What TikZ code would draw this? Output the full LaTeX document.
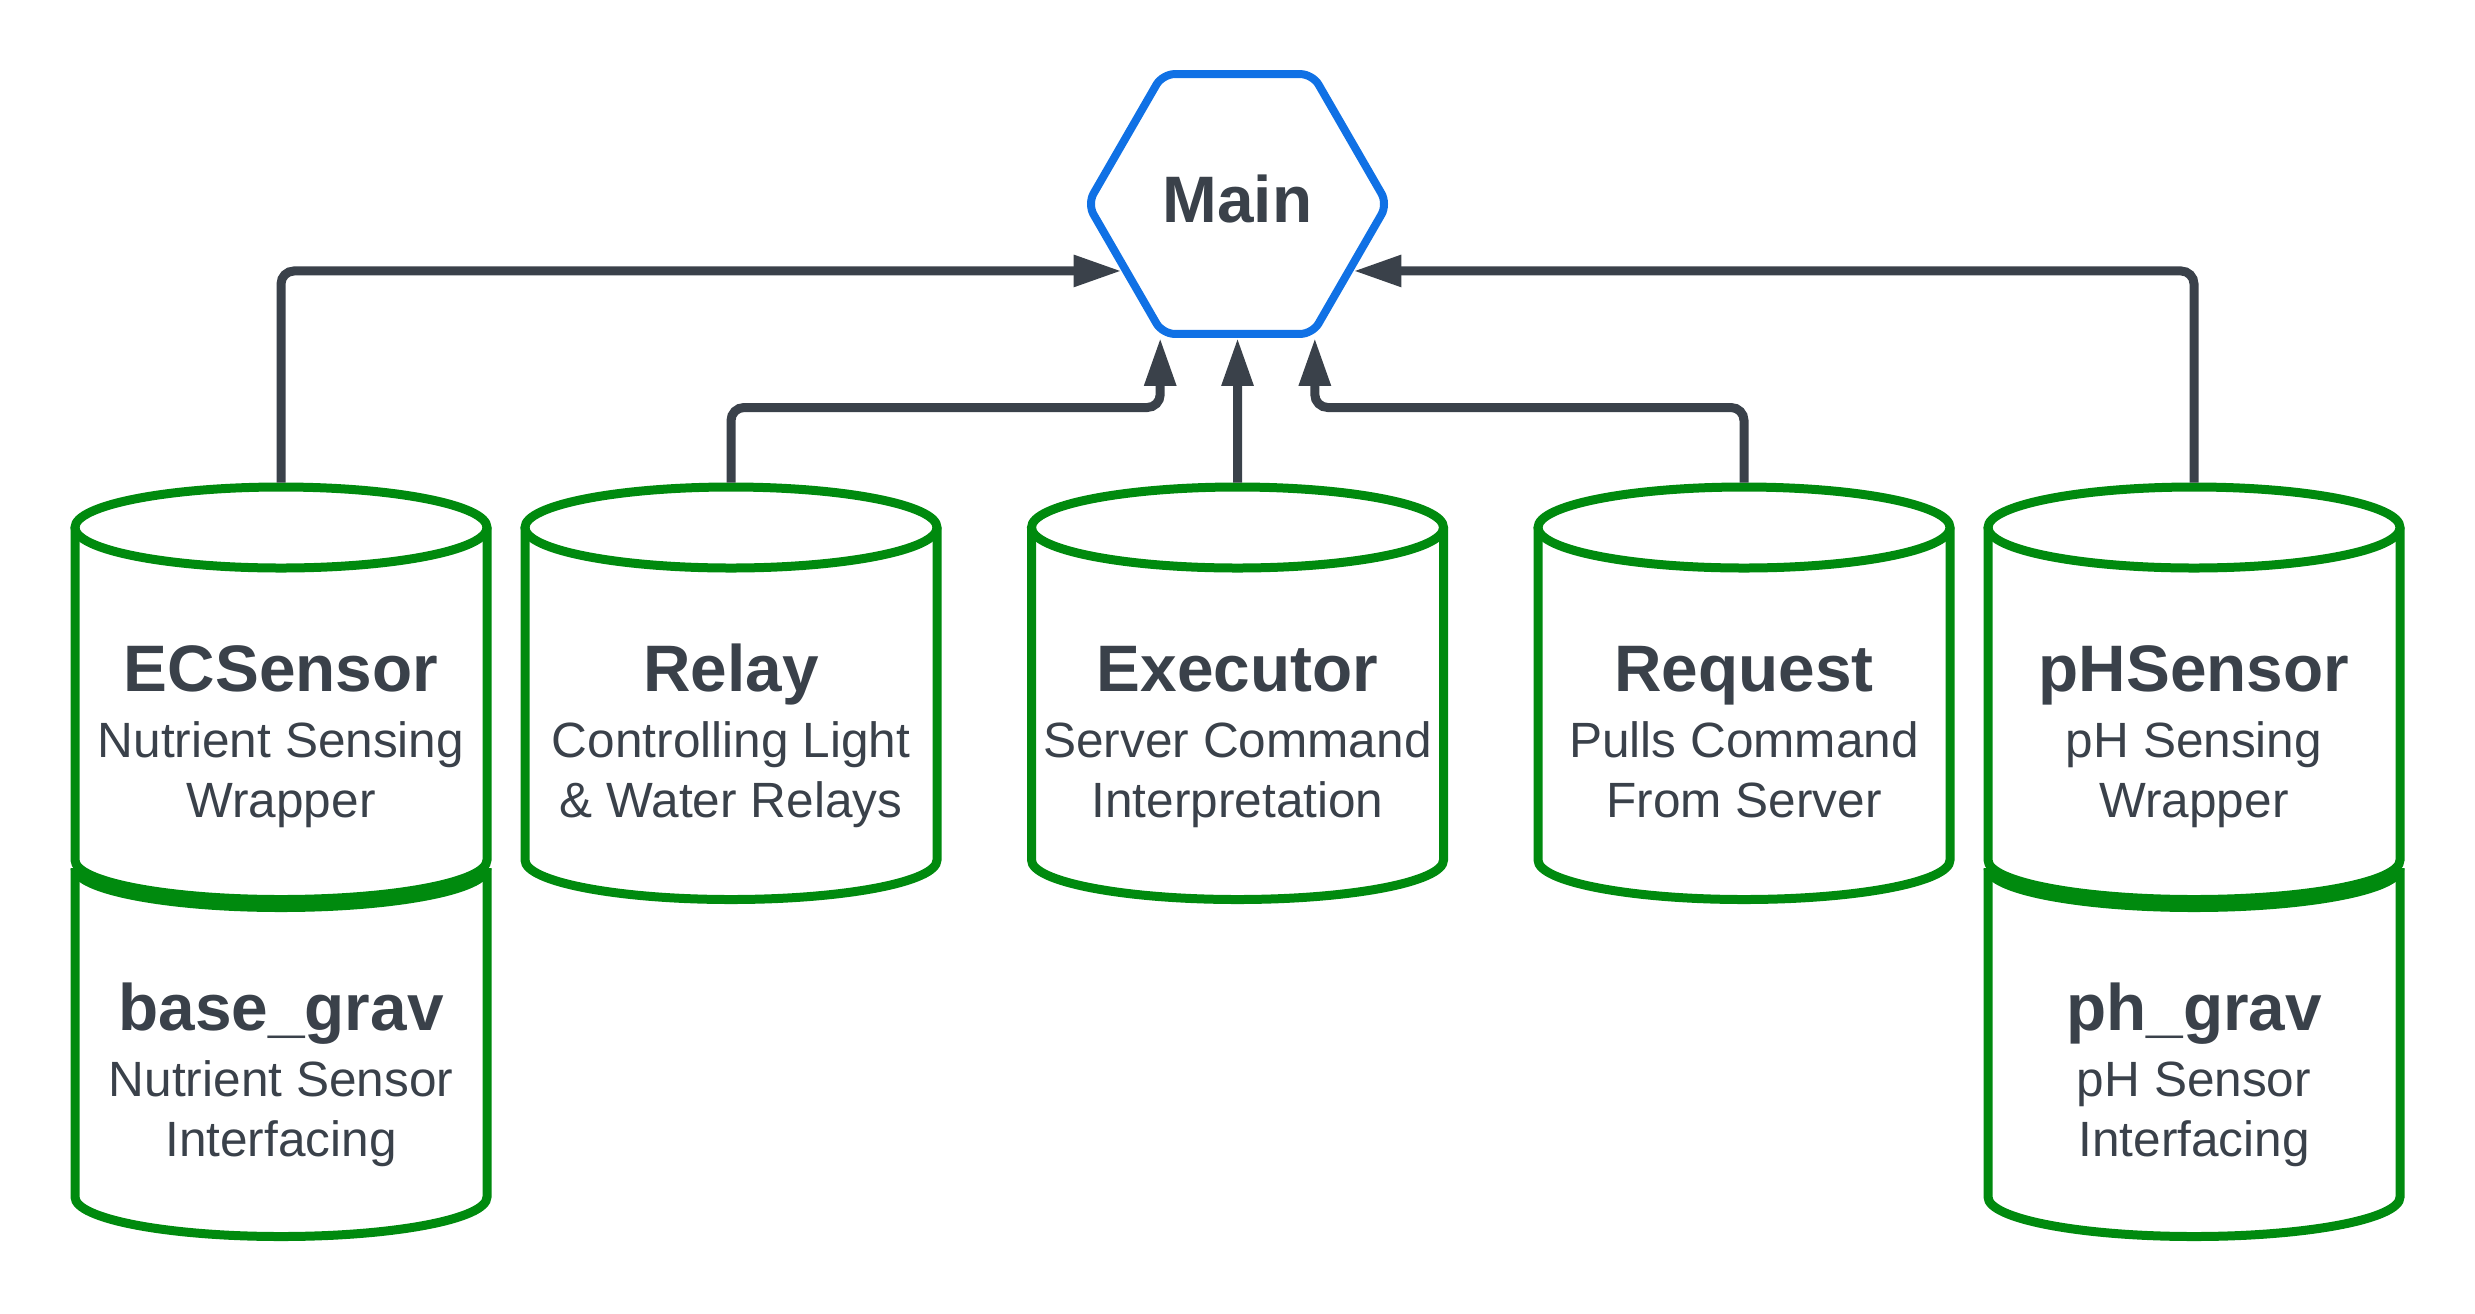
\documentclass[tikz,border=0pt]{standalone}
\usepackage{fontspec}
\setmainfont{Liberation Sans}
\usetikzlibrary{arrows.meta,shapes.geometric}

\definecolor{ink}{HTML}{3A414A}
\definecolor{hexblue}{HTML}{1071E5}
\definecolor{drumgreen}{HTML}{008A0E}

% cylinder: name, x, y of top ellipse, y of bottom ellipse
\newcommand{\drum}[4]{%
    \draw[drumline] ({#2-2.06},#3) -- ({#2-2.06},#4) arc[start angle=180, end angle=360, x radius=2.06, y radius=0.395] -- ({#2+2.06},#3);
    \draw[drumline] (#2,#3) ellipse[x radius=2.06, y radius=0.405];
    \coordinate (#1-top) at (#2,{#3+0.45});
}
% open cylinder under another one: x, y of top arc, y of bottom ellipse
\newcommand{\drumbase}[3]{%
    \draw[drumline] ({#1-2.06},#2) arc[start angle=180, end angle=360, x radius=2.06, y radius=0.395];
    \draw[drumline] ({#1-2.06},#2) -- ({#1-2.06},#3) arc[start angle=180, end angle=360, x radius=2.06, y radius=0.395] -- ({#1+2.06},#2);
}

\begin{document}
\begin{tikzpicture}[
    drumline/.style={draw=drumgreen, line width=0.09cm},
    hexa/.style={regular polygon, regular polygon sides=6, minimum size=3.0cm, inner sep=0pt,
        draw=hexblue, line width=0.08cm, rounded corners=0.12cm, text=ink,
        font=\fontsize{18.7}{22}\selectfont\bfseries, text height=0.47cm, text depth=0.1cm},
    title/.style={text=ink, font=\fontsize{18.7}{22}\selectfont\bfseries, anchor=base, inner sep=0pt},
    desc/.style={text=ink, font=\fontsize{14.1}{17.07}\selectfont, align=center, anchor=base, inner sep=0pt},
    link/.style={draw=ink, line width=0.09cm, rounded corners=0.13cm, -{Triangle[length=0.48cm, width=0.30cm]}}
]

    \useasboundingbox (0, 0) rectangle (24.75, -13.13);

    % the hub
    \node[hexa] (main) at (12.375, -2.04) {Main};

    % Draw the cylinders
    \drum{ec}{2.81}{-5.275}{-8.60}
    \drumbase{2.81}{-8.68}{-11.97}
    \drum{relay}{7.31}{-5.275}{-8.60}
    \drum{exec}{12.375}{-5.275}{-8.60}
    \drum{req}{17.44}{-5.275}{-8.60}
    \drum{ph}{21.94}{-5.275}{-8.60}
    \drumbase{21.94}{-8.68}{-11.97}

    % Labels of the upper cylinders
    \node[title] (ec) at (2.81, -6.91) {ECSensor};
    \node[desc] (ec-txt) at (2.81, -8.17) {Nutrient Sensing\\Wrapper};
    \node[title] (relay) at (7.31, -6.91) {Relay};
    \node[desc] (relay-txt) at (7.31, -8.17) {Controlling Light\\\& Water Relays};
    \node[title] (exec) at (12.375, -6.91) {Executor};
    \node[desc] (exec-txt) at (12.375, -8.17) {Server Command\\Interpretation};
    \node[title] (req) at (17.44, -6.91) {Request};
    \node[desc] (req-txt) at (17.44, -8.17) {Pulls Command\\From Server};
    \node[title] (ph) at (21.94, -6.91) {pHSensor};
    \node[desc] (ph-txt) at (21.94, -8.17) {pH Sensing\\Wrapper};

    % Labels of the lower cylinders
    \node[title] (base) at (2.81, -10.30) {base\_grav};
    \node[desc] (base-txt) at (2.81, -11.56) {Nutrient Sensor\\Interfacing};
    \node[title] (phgrav) at (21.94, -10.30) {ph\_grav};
    \node[desc] (phgrav-txt) at (21.94, -11.56) {pH Sensor\\Interfacing};

    % Arrows into the hub
    \draw[link] (ec-top) |- (main.-150);
    \draw[link] (relay-top) -- ++(0, 0.75) -| (main.-120);
    \draw[link] (exec-top) -- (main.south);
    \draw[link] (req-top) -- ++(0, 0.75) -| (main.-60);
    \draw[link] (ph-top) |- (main.-30);

\end{tikzpicture}
\end{document}
